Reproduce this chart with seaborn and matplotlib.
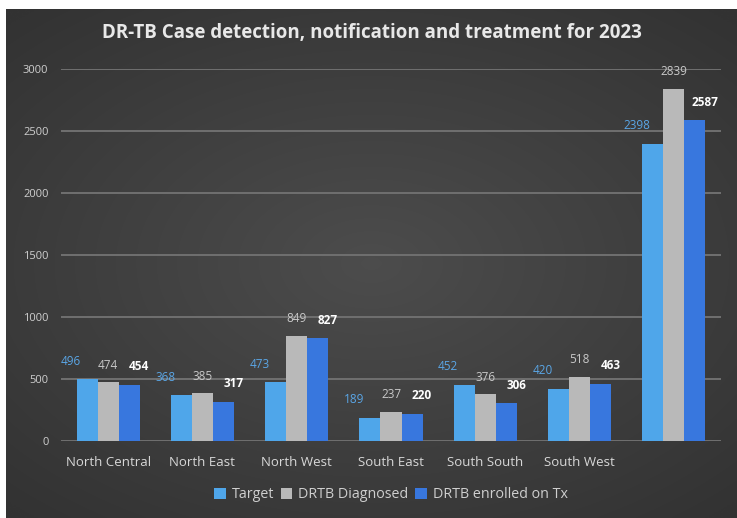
import numpy as np
import pandas as pd
import matplotlib
matplotlib.use("Agg")
import matplotlib.pyplot as plt
import seaborn as sns

# Zonal figures for 2023 (last group is the national total, left unlabelled)
zones = ["North Central", "North East", "North West", "South East",
         "South South", "South West", ""]
target = [496, 368, 473, 189, 452, 420, 2398]
diagnosed = [474, 385, 849, 237, 376, 518, 2839]
enrolled = [454, 317, 827, 220, 306, 463, 2587]
series = ["Target", "DRTB Diagnosed", "DRTB enrolled on Tx"]
yticks = [0, 500, 1000, 1500, 2000, 2500, 3000]

df = pd.DataFrame({
    "zone": zones * 3,
    "series": [series[0]] * 7 + [series[1]] * 7 + [series[2]] * 7,
    "value": target + diagnosed + enrolled,
})

sns.set_theme(style="dark")
plt.rcParams["font.family"] = ["Open Sans", "DejaVu Sans"]

W, H = 737, 518
fig = plt.figure(figsize=(W / 100, H / 100), dpi=100)
fig.patch.set_facecolor("white")

# dark panel with a soft radial glow
bg = fig.add_axes([6 / W, 0, 1 - 6 / W, 1 - 9 / H])
yy, xx = np.mgrid[-1:1:300j, -1:1:400j]
r = np.sqrt((xx / 1.1) ** 2 + (yy / 1.0) ** 2)
shade = 0.30 - 0.10 * np.clip(r, 0, 1.3) / 1.3
bg.imshow(np.dstack([shade] * 3), aspect="auto", interpolation="bilinear",
          extent=[0, 1, 0, 1])
bg.set_axis_off()

ax = fig.add_axes([61 / W, 1 - 441 / H, (721 - 61) / W, (441 - 69) / H])
ax.set_facecolor("none")

palette = {"Target": "#4fa6ea", "DRTB Diagnosed": "#b9b9b9",
           "DRTB enrolled on Tx": "#3877de"}
sns.barplot(data=df, x="zone", y="value", hue="series", order=zones,
            hue_order=series, palette=palette, errorbar=None, width=0.67,
            saturation=1, linewidth=0, ax=ax, legend=True)

ax.set_ylim(0, 3000)
ax.set_yticks(yticks)
ax.set_yticklabels([str(t) for t in yticks])
ax.set_xlabel("")
ax.set_ylabel("")
ax.grid(axis="y", color="#707070", linewidth=1.4)
ax.grid(axis="x", visible=False)
ax.set_axisbelow(True)
for s in ax.spines.values():
    s.set_visible(False)
ax.tick_params(axis="y", colors="#cfcfcf", labelsize=8, length=0, pad=9)
ax.tick_params(axis="x", colors="#d8d8d8", labelsize=9.5, length=0, pad=11)

# value labels
label_style = [
    dict(color="#5aa6e6", weight="normal", dx=-16, dy=18),
    dict(color="#c9c9c9", weight="normal", dx=0, dy=17),
    dict(color="#ffffff", weight="bold", dx=10, dy=18),
]
for cont, st in zip(ax.containers, label_style):
    for bar in cont:
        h = bar.get_height()
        x = bar.get_x() + bar.get_width() / 2
        ax.annotate(f"{h:.0f}", (x, h), xytext=(st["dx"], st["dy"]),
                    textcoords="offset pixels", ha="center", va="center",
                    fontsize=8.5, color=st["color"], fontweight=st["weight"],
                    annotation_clip=False)

leg = ax.legend(loc="center", bbox_to_anchor=(0.5, -0.145), ncol=3,
                frameon=False, fontsize=10.3, handlelength=0.8,
                handleheight=0.8, columnspacing=0.5, handletextpad=0.4)
for t in leg.get_texts():
    t.set_color("#cfcfcf")

fig.text(0.5 + 3 / W, 1 - 33 / H,
         "DR-TB Case detection, notification and treatment for 2023",
         ha="center", va="center", color="#e8e8e8", fontsize=13.5,
         fontweight="bold")

fig.savefig("out.png", dpi=100, facecolor=fig.get_facecolor())
